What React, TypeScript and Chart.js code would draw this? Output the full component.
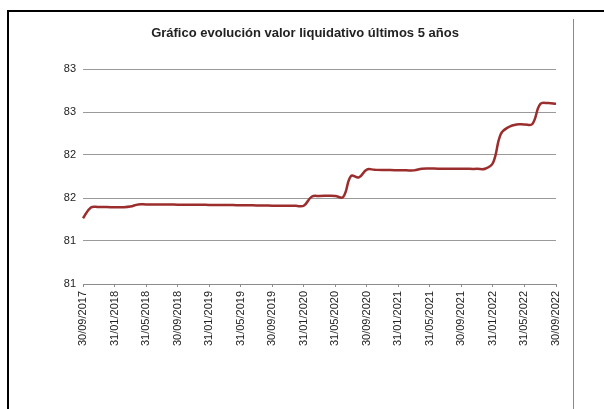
import React, { useEffect, useRef } from "react";
import { Chart, registerables } from "chart.js";

Chart.register(...registerables);

const TITLE = "Gráfico evolución valor liquidativo últimos 5 años";

const DATES = [
  "30/09/2017", "31/10/2017", "30/11/2017", "31/12/2017",
  "31/01/2018", "28/02/2018", "31/03/2018", "30/04/2018",
  "31/05/2018", "30/06/2018", "31/07/2018", "31/08/2018",
  "30/09/2018", "31/10/2018", "30/11/2018", "31/12/2018",
  "31/01/2019", "28/02/2019", "31/03/2019", "30/04/2019",
  "31/05/2019", "30/06/2019", "31/07/2019", "31/08/2019",
  "30/09/2019", "31/10/2019", "30/11/2019", "31/12/2019",
  "31/01/2020", "29/02/2020", "31/03/2020", "30/04/2020",
  "31/05/2020", "30/06/2020", "31/07/2020", "31/08/2020",
  "30/09/2020", "31/10/2020", "30/11/2020", "31/12/2020",
  "31/01/2021", "28/02/2021", "31/03/2021", "30/04/2021",
  "31/05/2021", "30/06/2021", "31/07/2021", "31/08/2021",
  "30/09/2021", "31/10/2021", "30/11/2021", "31/12/2021",
  "31/01/2022", "28/02/2022", "31/03/2022", "30/04/2022",
  "31/05/2022", "30/06/2022", "31/07/2022", "31/08/2022",
  "30/09/2022",
];

const VALUES = [
  81.611, 81.712, 81.716, 81.716,
  81.714, 81.714, 81.72, 81.74,
  81.74, 81.74, 81.739, 81.739,
  81.738, 81.738, 81.737, 81.737,
  81.736, 81.735, 81.735, 81.734,
  81.733, 81.732, 81.731, 81.73,
  81.729, 81.728, 81.727, 81.727,
  81.728, 81.812, 81.819, 81.82,
  81.819, 81.809, 82.005, 81.991,
  82.065, 82.062, 82.06, 82.06,
  82.058, 82.057, 82.057, 82.072,
  82.074, 82.073, 82.073, 82.072,
  82.072, 82.071, 82.071, 82.072,
  82.126, 82.395, 82.46, 82.484,
  82.484, 82.488, 82.674, 82.683,
  82.676,
];

const Y_MIN = 81;
const Y_MAX = 83;
const Y_STEP = 0.4;
const LABEL_EVERY = 4;

const FONT = "'Liberation Sans', Arial, sans-serif";

export default function App() {
  const ref = useRef<HTMLCanvasElement | null>(null);

  useEffect(() => {
    if (!ref.current) return;
    const titlePlugin = {
      id: "fixedTitle",
      afterDraw(chart: any) {
        const ctx = chart.ctx;
        ctx.save();
        ctx.font = `bold 13px ${FONT}`;
        ctx.fillStyle = "#222";
        ctx.textAlign = "center";
        ctx.textBaseline = "middle";
        ctx.fillText(TITLE, 305, 33);
        ctx.restore();
      },
    };
    const chart = new Chart(ref.current, {
      type: "line",
      data: {
        labels: DATES,
        datasets: [
          {
            data: VALUES,
            borderColor: "#9b2d2d",
            borderWidth: 2.5,
            pointRadius: 0,
            tension: 0.4,
            fill: false,
          },
        ],
      },
      options: {
        responsive: false,
        animation: false,
        layout: { padding: { top: 69, left: 0, right: 48, bottom: 0 } },
        plugins: {
          legend: { display: false },
          title: { display: false },
          tooltip: { enabled: false },
        },
        scales: {
          x: {
            type: "category",
            offset: false,
            afterFit: (s: any) => {
              s.height = 125;
            },
            border: { display: true, color: "#8c8c8c", width: 1 },
            grid: {
              drawOnChartArea: false,
              drawTicks: true,
              tickLength: 3,
              color: (c: any) =>
                c.index % LABEL_EVERY === 0 ? "#8c8c8c" : "rgba(0,0,0,0)",
            },
            ticks: {
              autoSkip: false,
              maxRotation: 90,
              minRotation: 90,
              padding: 4,
              color: "#222",
              font: { family: FONT, size: 11 },
              callback: (_v: any, i: number) =>
                i % LABEL_EVERY === 0 ? DATES[i] : "",
            },
          },
          y: {
            min: Y_MIN,
            max: Y_MAX,
            afterFit: (s: any) => {
              s.width = 83;
            },
            border: { display: false },
            grid: { color: "#9a9a9a", drawTicks: false, lineWidth: 1 },
            ticks: {
              stepSize: Y_STEP,
              padding: 7,
              color: "#222",
              font: { family: FONT, size: 11 },
              callback: (v: any) => String(Math.round(Number(v))),
            },
          },
        },
      },
      plugins: [titlePlugin],
    });
    return () => chart.destroy();
  }, []);

  return (
    <div
      style={{
        position: "fixed",
        left: 0,
        top: 0,
        width: 604,
        height: 409,
        overflow: "hidden",
        background: "#fff",
      }}
    >
      <canvas
        ref={ref}
        width={604}
        height={409}
        style={{ position: "absolute", left: 0, top: 0 }}
      />
      <div style={{ position: "absolute", left: 7, top: 10, width: 597, height: 2, background: "#000" }} />
      <div style={{ position: "absolute", left: 7, top: 10, width: 2, height: 399, background: "#000" }} />
      <div style={{ position: "absolute", left: 573, top: 19, width: 1, height: 390, background: "#8a8a8a" }} />
    </div>
  );
}
